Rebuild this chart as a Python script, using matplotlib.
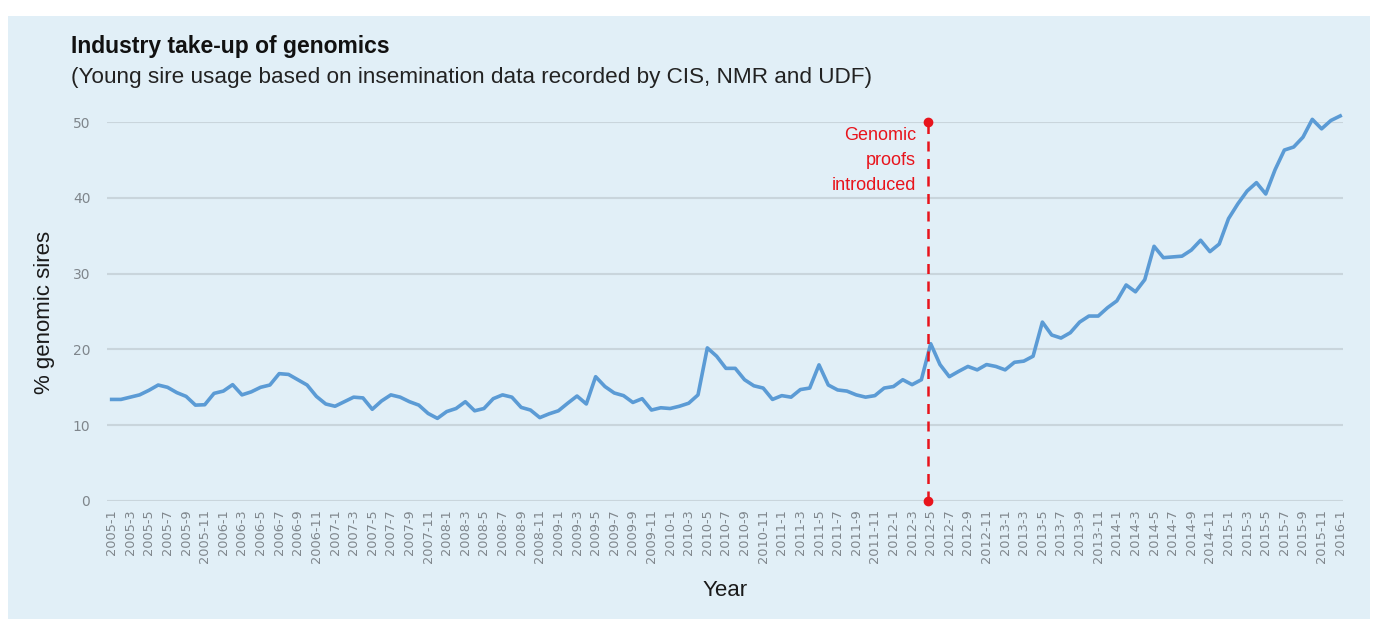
import numpy as np
import matplotlib
matplotlib.use("Agg")
import matplotlib.pyplot as plt
from matplotlib.patches import Rectangle

# monthly young-sire usage (% genomic sires), 2005-1 .. 2016-1
y2005 = [13.4, 13.4, 13.7, 14.0, 14.6, 15.3, 15.0, 14.3, 13.8, 12.65, 12.7, 14.2]
y2006 = [14.5, 15.35, 14.0, 14.4, 15.0, 15.3, 16.8, 16.7, 16.0, 15.3, 13.8, 12.8]
y2007 = [12.5, 13.1, 13.7, 13.6, 12.1, 13.2, 14.0, 13.7, 13.1, 12.65, 11.55, 10.9]
y2008 = [11.8, 12.2, 13.1, 11.9, 12.2, 13.5, 14.0, 13.7, 12.35, 12.0, 11.0, 11.5]
y2009 = [11.9, 12.9, 13.85, 12.8, 16.4, 15.1, 14.25, 13.9, 13.0, 13.5, 12.0, 12.3]
y2010 = [12.2, 12.5, 12.9, 14.0, 20.2, 19.1, 17.5, 17.5, 16.0, 15.2, 14.9, 13.4]
y2011 = [13.9, 13.7, 14.7, 14.9, 17.96, 15.3, 14.65, 14.5, 14.0, 13.7, 13.9, 14.9]
y2012 = [15.1, 16.0, 15.35, 16.0, 20.75, 18.0, 16.4, 17.1, 17.75, 17.3, 18.0, 17.75]
y2013 = [17.3, 18.3, 18.45, 19.1, 23.6, 21.9, 21.5, 22.2, 23.6, 24.4, 24.4, 25.5]
y2014 = [26.4, 28.5, 27.6, 29.2, 33.6, 32.1, 32.2, 32.3, 33.1, 34.4, 32.9, 33.9]
y2015 = [37.25, 39.2, 40.9, 42.0, 40.5, 43.7, 46.3, 46.7, 48.0, 50.35, 49.1, 50.2]
y2016 = [50.8]

values = y2005 + y2006 + y2007 + y2008 + y2009 + y2010 + y2011 + y2012 + y2013 + y2014 + y2015 + y2016
labels = [f"{y}-{m}" for y in range(2005, 2017) for m in range(1, 13)][:len(values)]

GENOMIC_START = 87.7  # just before 2012-5
yticks = [0, 10, 20, 30, 40, 50]

BG = "#e1eff7"
LINE = "#5b9bd5"
RED = "#e8141c"
GRID = "#c9d5dc"
TICK = "#7f868c"

fig = plt.figure(figsize=(13.74, 6.19), dpi=100)
fig.patch.set_facecolor("white")
fig.patches.append(Rectangle((8 / 1374, 0), 1362 / 1374, 603 / 619,
                             transform=fig.transFigure, facecolor=BG,
                             edgecolor="none", zorder=-10))

ax = fig.add_axes([107 / 1374, 118 / 619, 1236 / 1374, 379 / 619])
ax.set_facecolor("none")

x = np.arange(len(values))
ax.plot(x, values, color=LINE, linewidth=2.6, clip_on=False, zorder=3)

ax.set_xlim(-0.5, 132.3)
ax.set_ylim(0, 50)
ax.set_yticks(yticks)
ax.set_xticks(x[::2])
ax.set_xticklabels(labels[::2], rotation=90, fontsize=9.3, color=TICK, family="DejaVu Sans")
for t in ax.get_yticklabels():
    t.set_fontsize(10)
    t.set_color(TICK)
ax.tick_params(length=0, pad=6)
ax.tick_params(axis="y", pad=12)
ax.grid(axis="y", color=GRID, linewidth=1.5)
ax.set_axisbelow(True)
for s in ax.spines.values():
    s.set_visible(False)

ax.set_xlabel("Year", fontsize=16, family="Liberation Sans", color="#1a1a1a")
ax.set_ylabel("% genomic sires", fontsize=16, family="Liberation Sans", color="#1a1a1a")
ax.xaxis.set_label_coords(0.5, -(591 - 501) / 379, transform=ax.transAxes)
ax.yaxis.set_label_coords(-(107 - 45) / 1236, (501 - 312) / 379)
ax.xaxis.label.set_va("center")
ax.yaxis.label.set_va("center")

# genomic proofs marker
ax.plot([GENOMIC_START, GENOMIC_START], [0, 50], color=RED, linewidth=1.8,
        linestyle=(0, (4, 3)), clip_on=False, zorder=4)
ax.plot([GENOMIC_START, GENOMIC_START], [0, 50], "o", color=RED, markersize=6,
        clip_on=False, zorder=5)
ax.text(GENOMIC_START - 1.3, 49.3, "Genomic\nproofs\nintroduced", color=RED,
        fontsize=13, family="Liberation Sans", ha="right", va="top", linespacing=1.6)

fig.text(71 / 1374, 1 - 47 / 619, "Industry take-up of genomics", fontsize=16.5,
         fontweight="bold", family="Liberation Sans", va="center", color="#111111")
fig.text(71 / 1374, 1 - 77 / 619,
         "(Young sire usage based on insemination data recorded by CIS, NMR and UDF)",
         fontsize=16.2, family="Liberation Sans", va="center", color="#222222")

fig.savefig("out.png", dpi=100, facecolor=fig.get_facecolor())
